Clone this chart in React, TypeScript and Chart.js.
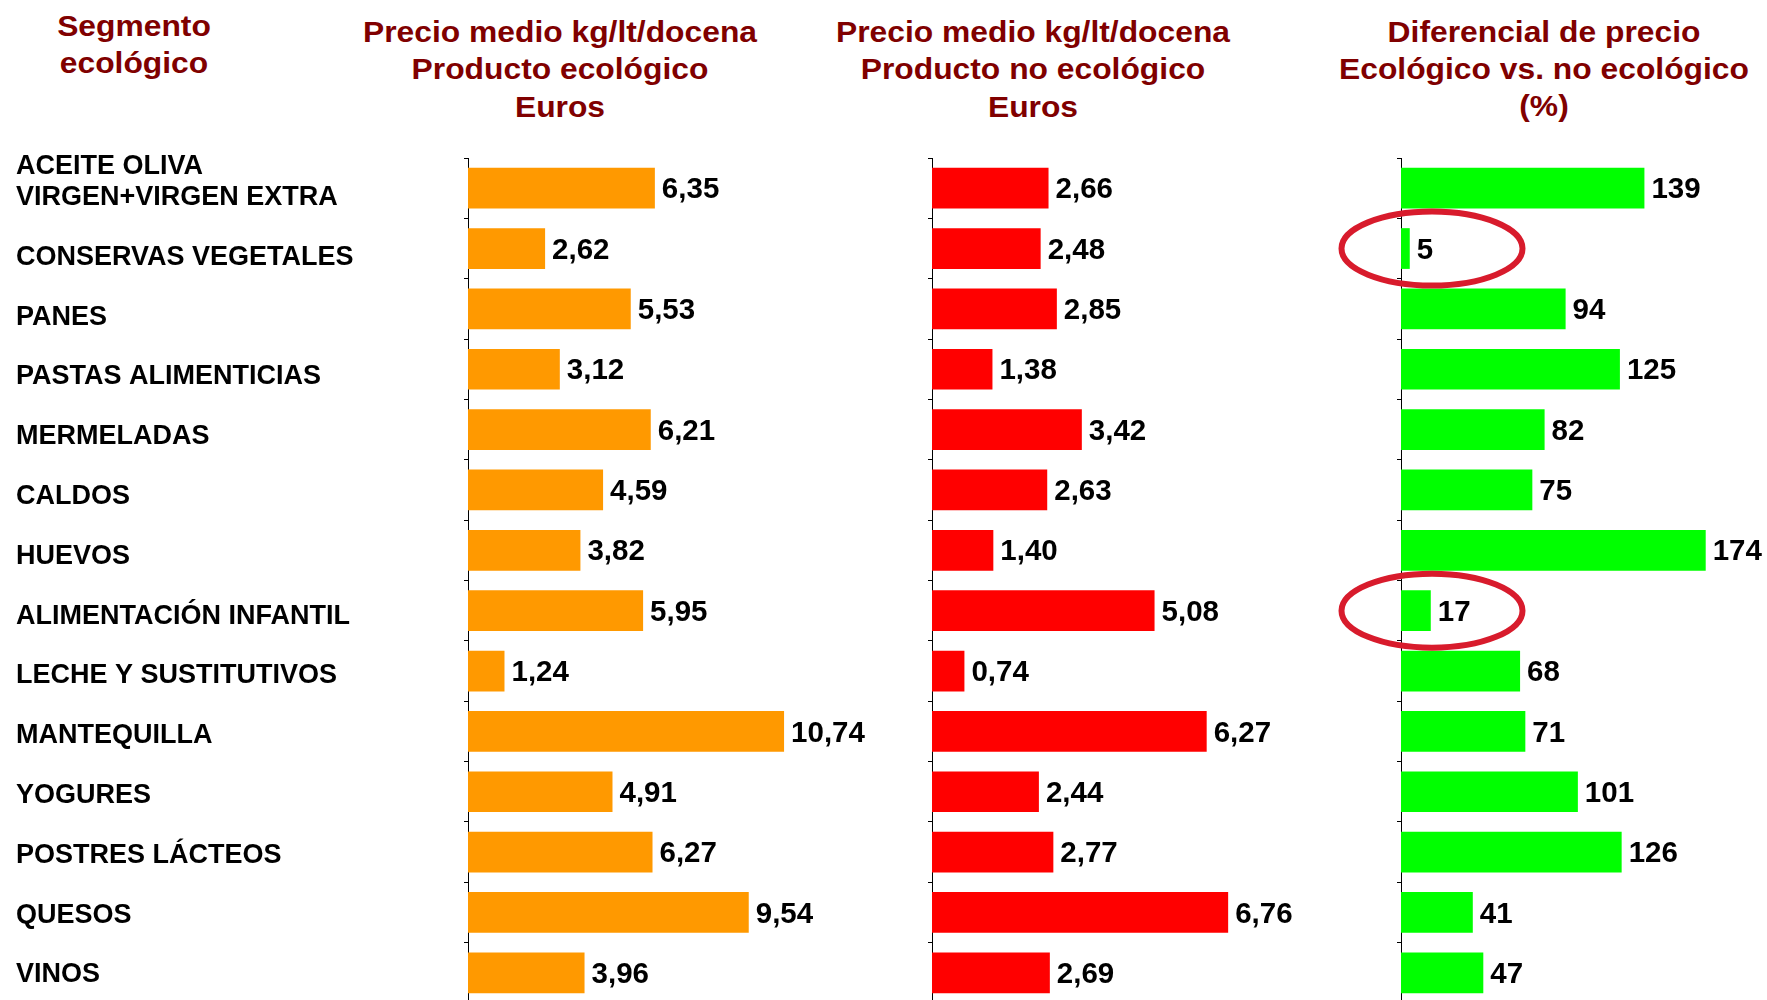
import React, { useEffect, useRef } from "react";
import { Chart, registerables } from "chart.js";

Chart.register(...registerables);

const CATEGORIES: (string | string[])[] = [
  ["ACEITE OLIVA", "VIRGEN+VIRGEN EXTRA"],
  "CONSERVAS VEGETALES",
  "PANES",
  "PASTAS ALIMENTICIAS",
  "MERMELADAS",
  "CALDOS",
  "HUEVOS",
  "ALIMENTACIÓN INFANTIL",
  "LECHE Y SUSTITUTIVOS",
  "MANTEQUILLA",
  "YOGURES",
  "POSTRES LÁCTEOS",
  "QUESOS",
  "VINOS",
];
const PRECIO_ECO = [6.35, 2.62, 5.53, 3.12, 6.21, 4.59, 3.82, 5.95, 1.24, 10.74, 4.91, 6.27, 9.54, 3.96];
const PRECIO_NO_ECO = [2.66, 2.48, 2.85, 1.38, 3.42, 2.63, 1.4, 5.08, 0.74, 6.27, 2.44, 2.77, 6.76, 2.69];
const DIFERENCIAL = [139, 5, 94, 125, 82, 75, 174, 17, 68, 71, 101, 126, 41, 47];
const HIGHLIGHTED = ["CONSERVAS VEGETALES", "ALIMENTACIÓN INFANTIL"];

const HEADER_SEGMENTO = ["Segmento", "ecológico"];
const HEADER_ECO = ["Precio medio kg/lt/docena", "Producto ecológico", "Euros"];
const HEADER_NO_ECO = ["Precio medio kg/lt/docena", "Producto no ecológico", "Euros"];
const HEADER_DIF = ["Diferencial de precio", "Ecológico vs. no ecológico", "(%)"];

const FONT = "'Liberation Sans', Arial, Helvetica, sans-serif";
const TOP_PAD = 158;
const BOTTOM_PAD = 35;
const CANVAS_H = 1003 + BOTTOM_PAD;

type PanelOpts = {
  values: number[];
  color: string;
  max: number;
  yWidth: number;
  showLabels: boolean;
  decimals: number;
  highlight?: boolean;
};

const valueLabelPlugin = {
  id: "valueLabels",
  afterDatasetsDraw(chart: any, _args: any, opts: any) {
    const ctx = chart.ctx;
    const meta = chart.getDatasetMeta(0);
    const data = chart.data.datasets[0].data as number[];
    ctx.save();
    ctx.font = `bold 29.5px ${FONT}`;
    ctx.fillStyle = "#000";
    ctx.textAlign = "left";
    ctx.textBaseline = "middle";
    meta.data.forEach((bar: any, i: number) => {
      const v = data[i];
      const txt = opts.decimals > 0 ? v.toFixed(opts.decimals).replace(".", ",") : String(v);
      ctx.fillText(txt, bar.x + 7, bar.y + 2);
    });
    ctx.restore();
  },
};

// Category labels: left aligned; the last line's baseline sits a little below the band centre,
// with the text rows spaced slightly tighter than the bars.
const categoryLabelPlugin = {
  id: "categoryLabels",
  afterDraw(chart: any, _args: any, opts: any) {
    if (!opts || !opts.enabled) return;
    const ctx = chart.ctx;
    const yScale = chart.scales.y;
    ctx.save();
    ctx.font = `bold 27px ${FONT}`;
    ctx.fillStyle = "#000";
    ctx.textAlign = "left";
    ctx.textBaseline = "alphabetic";
    CATEGORIES.forEach((label, i) => {
      const lines = Array.isArray(label) ? label : [label];
      const cy = yScale.getPixelForValue(i);
      const n = lines.length;
      const base = cy + 16.9 - 0.567 * i;
      lines.forEach((line, j) => {
        ctx.fillText(line, opts.x, base - (n - 1 - j) * 31.5);
      });
    });
    ctx.restore();
  },
};

const ellipsePlugin = {
  id: "highlightEllipse",
  afterDraw(chart: any, _args: any, opts: any) {
    if (!opts || !opts.enabled) return;
    const ctx = chart.ctx;
    const yScale = chart.scales.y;
    const xScale = chart.scales.x;
    ctx.save();
    ctx.strokeStyle = "#D81B2C";
    ctx.lineWidth = 6;
    HIGHLIGHTED.forEach((name) => {
      const idx = CATEGORIES.findIndex((c) => c === name);
      if (idx < 0) return;
      const cy = yScale.getPixelForValue(idx);
      const cx = xScale.getPixelForValue(0) + 31;
      ctx.beginPath();
      ctx.ellipse(cx, cy, 90.5, 37, 0, 0, Math.PI * 2);
      ctx.stroke();
    });
    ctx.restore();
  },
};

function Panel({ left, width, opts }: { left: number; width: number; opts: PanelOpts }) {
  const ref = useRef<HTMLCanvasElement>(null);
  useEffect(() => {
    if (!ref.current) return;
    const chart = new Chart(ref.current, {
      type: "bar",
      data: {
        labels: CATEGORIES as any,
        datasets: [
          {
            data: opts.values,
            backgroundColor: opts.color,
            borderWidth: 0,
            barPercentage: 0.675,
            categoryPercentage: 1,
          },
        ],
      },
      plugins: [valueLabelPlugin, categoryLabelPlugin, ellipsePlugin],
      options: {
        indexAxis: "y",
        animation: false,
        responsive: false,
        devicePixelRatio: 1,
        layout: { padding: { left: 0, top: TOP_PAD, bottom: BOTTOM_PAD, right: 0 } },
        plugins: {
          legend: { display: false },
          tooltip: { enabled: false },
          title: { display: false },
          valueLabels: { decimals: opts.decimals },
          categoryLabels: { enabled: opts.showLabels, x: 16 },
          highlightEllipse: { enabled: !!opts.highlight },
        } as any,
        scales: {
          x: { display: false, min: 0, max: opts.max },
          y: {
            type: "category",
            offset: true,
            grid: {
              display: true,
              drawOnChartArea: false,
              drawTicks: true,
              tickLength: 4,
              color: "#000",
              offset: true,
            },
            border: { display: true, color: "#000", width: 1 },
            ticks: { display: false },
            afterFit: (s: any) => {
              s.width = opts.yWidth;
            },
          } as any,
        },
      },
    });
    return () => chart.destroy();
  }, []);
  return (
    <canvas
      ref={ref}
      width={width}
      height={CANVAS_H}
      style={{ position: "absolute", left, top: 0, width, height: CANVAS_H }}
    />
  );
}

function Header({ lines, cx, top, lh }: { lines: string[]; cx: number; top: number; lh: number }) {
  return (
    <div
      style={{
        position: "absolute",
        left: cx - 300,
        top,
        width: 600,
        textAlign: "center",
        fontFamily: FONT,
        fontWeight: "bold",
        fontSize: 30,
        lineHeight: `${lh}px`,
        color: "#800000",
        transform: "scaleX(1.06)",
        transformOrigin: "center",
        whiteSpace: "pre",
      }}
    >
      {lines.map((l, i) => (
        <div key={i}>{l}</div>
      ))}
    </div>
  );
}

export default function App() {
  return (
    <div
      style={{
        position: "absolute",
        left: 0,
        top: 0,
        width: 1767,
        height: 1000,
        overflow: "hidden",
        background: "#fff",
      }}
    >
      <Header lines={HEADER_SEGMENTO} cx={134} top={6.8} lh={37} />
      <Header lines={HEADER_ECO} cx={560} top={12.5} lh={37.5} />
      <Header lines={HEADER_NO_ECO} cx={1033} top={12.5} lh={37.5} />
      <Header lines={HEADER_DIF} cx={1544} top={12.5} lh={37} />
      <Panel
        left={0}
        width={880}
        opts={{ values: PRECIO_ECO, color: "#FF9900", max: 14, yWidth: 468, showLabels: true, decimals: 2 }}
      />
      <Panel
        left={880}
        width={420}
        opts={{ values: PRECIO_NO_ECO, color: "#FF0000", max: 8.4, yWidth: 52, showLabels: false, decimals: 2 }}
      />
      <Panel
        left={1300}
        width={467}
        opts={{ values: DIFERENCIAL, color: "#00FF00", max: 209, yWidth: 101, showLabels: false, decimals: 0, highlight: true }}
      />
    </div>
  );
}
